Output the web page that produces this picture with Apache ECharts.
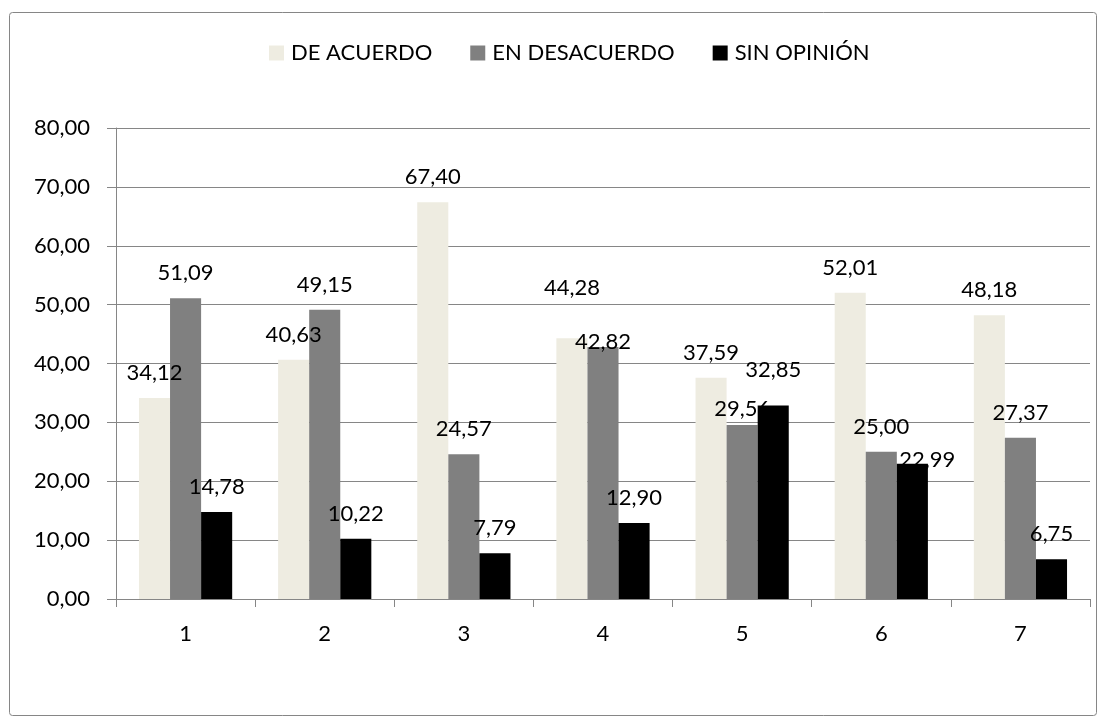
<!DOCTYPE html>
<html>
<head>
  <meta charset="utf-8">
  <title>Encuesta</title>
  <script src="https://cdn.jsdelivr.net/npm/echarts@6/dist/echarts.min.js"></script>
  <style>
    html, body { margin: 0; padding: 0; background: #fff; }
    #chart { width: 1106px; height: 728px; }
  </style>
</head>
<body>
  <div id="chart"></div>
  <script>
    var categorias = ['1', '2', '3', '4', '5', '6', '7'];
    var deAcuerdo = [34.12, 40.63, 67.40, 44.28, 37.59, 52.01, 48.18];
    var enDesacuerdo = [51.09, 49.15, 24.57, 42.82, 29.56, 25.00, 27.37];
    var sinOpinion = [14.78, 10.22, 7.79, 12.90, 32.85, 22.99, 6.75];

    // desplazamiento [dx, dy] de algunas etiquetas, como en el original
    var ajusteAcuerdo = [null, null, null, [0, -25], null, null, null];
    var ajusteDesacuerdo = [null, null, null, [0, 20], [0, 9], null, null];
    var ajusteSinOpinion = [null, null, null, null, [0, -11], [15, 21], null];

    var fuente = 'Lato, "Open Sans", sans-serif';
    function coma(v) { return v.toFixed(2).replace('.', ','); }

    function serie(nombre, datos, ajustes, color) {
      return {
        name: nombre,
        type: 'bar',
        data: datos.map(function (v, i) {
          var d = { value: v };
          if (ajustes[i]) d.label = { offset: ajustes[i] };
          return d;
        }),
        barGap: '0%',
        barCategoryGap: '33%',
        itemStyle: { color: color },
        label: {
          show: true,
          position: 'top',
          distance: 14,
          color: '#000',
          fontFamily: fuente,
          fontSize: 22,
          formatter: function (p) { return coma(p.value); }
        }
      };
    }

    var chart = echarts.init(document.getElementById('chart'));
    var option = {
      animation: false,
      backgroundColor: '#fff',
      graphic: [{
        type: 'rect',
        shape: { x: 9.5, y: 12.5, width: 1087, height: 703, r: 3 },
        style: { fill: 'none', stroke: '#868686', lineWidth: 1 },
        silent: true
      }],
      legend: {
        top: 37,
        left: 264,
        itemWidth: 15,
        itemHeight: 15,
        itemGap: 38,
        icon: 'rect',
        textStyle: { fontFamily: fuente, fontSize: 22, color: '#000', padding: [0, 0, 0, 2] },
        data: ['DE ACUERDO', 'EN DESACUERDO', 'SIN OPINIÓN']
      },
      grid: { left: 116, right: 16, top: 128, bottom: 129, containLabel: false },
      xAxis: {
        type: 'category',
        data: categorias,
        axisLine: { lineStyle: { color: '#868686' } },
        axisTick: { show: true, length: 8, inside: false, lineStyle: { color: '#868686' } },
        axisLabel: { fontFamily: fuente, fontSize: 22, color: '#000', margin: 24 }
      },
      yAxis: {
        type: 'value',
        min: 0,
        max: 80,
        interval: 10,
        axisLine: { show: true, lineStyle: { color: '#868686' } },
        axisTick: { show: true, length: 9, lineStyle: { color: '#868686' } },
        splitLine: { lineStyle: { color: '#868686' } },
        axisLabel: {
          fontFamily: fuente, fontSize: 22, color: '#000', margin: 26,
          formatter: function (v) { return coma(v); }
        }
      },
      series: [
        serie('DE ACUERDO', deAcuerdo, ajusteAcuerdo, '#EEECE1'),
        serie('EN DESACUERDO', enDesacuerdo, ajusteDesacuerdo, '#808080'),
        serie('SIN OPINIÓN', sinOpinion, ajusteSinOpinion, '#000000')
      ]
    };
    chart.setOption(option);
  </script>
</body>
</html>
